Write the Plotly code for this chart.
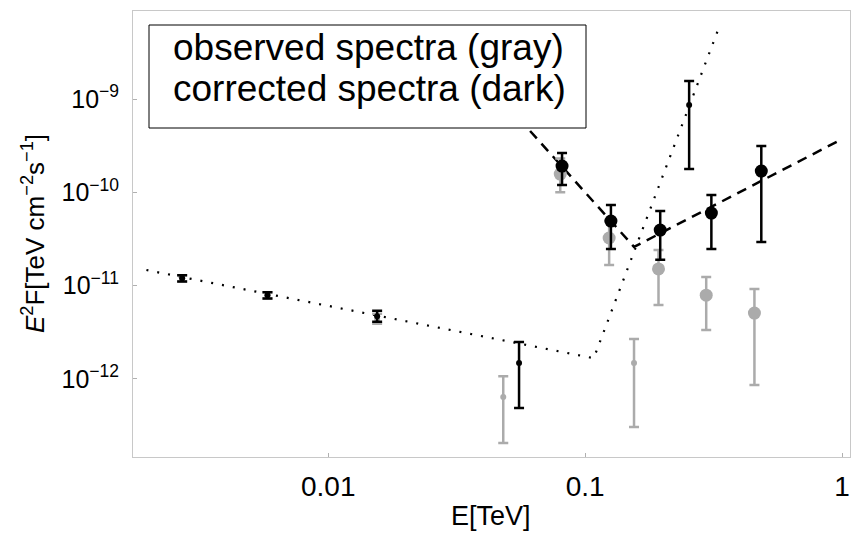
import plotly.graph_objects as go

# ---------------- data ----------------
# observed spectra (gray), small markers
obs_small_x = [0.0027, 0.0058, 0.0155, 0.048, 0.155]
obs_small_y = [1.2e-11, 7.9e-12, 4.4e-12, 6.4e-13, 1.48e-12]
obs_small_hi = [1.29e-11, 8.5e-12, 5.0e-12, 1.07e-12, 2.68e-12]
obs_small_lo = [1.11e-11, 7.3e-12, 3.9e-12, 2.06e-13, 3.05e-13]

# observed spectra (gray), large markers
obs_big_x = [0.080, 0.124, 0.193, 0.296, 0.456]
obs_big_y = [1.57e-10, 3.24e-11, 1.51e-11, 7.9e-12, 5.08e-12]
obs_big_hi = [2.3e-10, 4.9e-11, 2.41e-11, 1.24e-11, 9.2e-12]
obs_big_lo = [1.0e-10, 1.66e-11, 6.2e-12, 3.34e-12, 8.6e-13]

# corrected spectra (dark), small markers
corr_small_x = [0.0027, 0.0058, 0.0155, 0.0553, 0.254]
corr_small_y = [1.2e-11, 7.9e-12, 4.7e-12, 1.48e-12, 8.6e-10]
corr_small_hi = [1.29e-11, 8.5e-12, 5.4e-12, 2.49e-12, 1.56e-9]
corr_small_lo = [1.11e-11, 7.3e-12, 4.1e-12, 4.9e-13, 1.78e-10]

# corrected spectra (dark), large markers
corr_big_x = [0.0813, 0.126, 0.196, 0.31, 0.485]
corr_big_y = [1.91e-10, 4.92e-11, 3.94e-11, 6.0e-11, 1.69e-10]
corr_big_hi = [2.64e-10, 7.3e-11, 6.3e-11, 9.35e-11, 3.13e-10]
corr_big_lo = [1.20e-10, 2.47e-11, 1.9e-11, 2.47e-11, 2.93e-11]

# model curves
dashed_x = [0.045, 0.155, 1.0]
dashed_y = [1.16e-9, 2.6e-11, 3.72e-10]
dotted_x = [0.00196, 0.108, 0.33]
dotted_y = [1.47e-11, 1.67e-12, 5.6e-9]

y_tickvals = [1e-12, 1e-11, 1e-10, 1e-9]
y_ticktext = ["10<sup>\u221212</sup>", "10<sup>\u221211</sup>", "10<sup>\u221210</sup>", "10<sup>\u22129</sup>"]
x_tickvals = [0.01, 0.1, 1]
x_ticktext = ["0.01", "0.1", "1"]

legend_lines = ["observed spectra (gray)", "corrected spectra (dark)"]

# ---------------- figure ----------------
W, H = 852, 533
L, R, T, B = 133, 2, 11, 76
PW, PH = W - L - R, H - T - B


def px_x(p):
    return (p - L) / PW


def px_y(p):
    return (H - B - p) / PH


GRAY = "#ababab"
FONT = "Liberation Sans, Arial, sans-serif"


def err(hi, lo, y):
    return dict(
        type="data",
        symmetric=False,
        array=[h - v for h, v in zip(hi, y)],
        arrayminus=[v - l for v, l in zip(y, lo)],
    )


fig = go.Figure()

fig.add_trace(go.Scatter(x=dotted_x, y=dotted_y, mode="lines",
                         line=dict(color="black", width=2.2, dash="2px,9px"),
                         hoverinfo="skip"))
fig.add_trace(go.Scatter(x=dashed_x, y=dashed_y, mode="lines",
                         line=dict(color="black", width=2.5, dash="10px,7px"),
                         hoverinfo="skip"))

for xs, ys, hi, lo, size, color in [
    (obs_small_x, obs_small_y, obs_small_hi, obs_small_lo, 6, GRAY),
    (obs_big_x, obs_big_y, obs_big_hi, obs_big_lo, 13, GRAY),
    (corr_small_x, corr_small_y, corr_small_hi, corr_small_lo, 6, "black"),
    (corr_big_x, corr_big_y, corr_big_hi, corr_big_lo, 13, "black"),
]:
    e = err(hi, lo, ys)
    e.update(color=color, thickness=2.5, width=5)
    fig.add_trace(go.Scatter(x=xs, y=ys, mode="markers",
                             marker=dict(size=size, color=color),
                             error_y=e))

fig.update_xaxes(type="log", range=[-2.76, 0.031],
                 tickvals=x_tickvals, ticktext=x_ticktext,
                 showgrid=False, zeroline=False,
                 showline=True, mirror=True, linecolor="#c8c8c8", linewidth=1,
                 ticks="inside", ticklen=4, tickcolor="#b0b0b0",
                 tickfont=dict(family=FONT, size=28, color="black"),
                 ticklabelstandoff=4)
fig.update_yaxes(type="log", range=[-12.836, -8.057],
                 tickvals=y_tickvals, ticktext=y_ticktext,
                 showgrid=False, zeroline=False,
                 showline=True, mirror=True, linecolor="#c8c8c8", linewidth=1,
                 ticks="inside", ticklen=4, tickcolor="#b0b0b0",
                 tickfont=dict(family=FONT, size=25, color="black"),
                 ticklabelstandoff=8)

# legend box
fig.add_shape(type="rect", xref="paper", yref="paper",
              x0=px_x(149), x1=px_x(586), y0=px_y(128), y1=px_y(25),
              line=dict(color="black", width=1), fillcolor="white", layer="above")
for i, txt in enumerate(legend_lines):
    fig.add_annotation(x=px_x(171), y=px_y(47 + 42 * i), xref="paper", yref="paper",
                       text=txt, showarrow=False, xanchor="left", yanchor="middle",
                       font=dict(family=FONT, size=37, color="black"))

# axis titles
fig.add_annotation(x=px_x(491), y=px_y(516), xref="paper", yref="paper",
                   text="E[TeV]", showarrow=False, xanchor="center", yanchor="middle",
                   font=dict(family=FONT, size=27, color="black"))
fig.add_annotation(x=px_x(33), y=px_y(234), xref="paper", yref="paper",
                   text="<i>E</i><sup>2</sup>F[TeV cm<sup>\u22122</sup>s<sup>\u22121</sup>]",
                   textangle=-90, showarrow=False, xanchor="center", yanchor="middle",
                   font=dict(family=FONT, size=26, color="black"))

fig.update_layout(width=W, height=H, margin=dict(l=L, r=R, t=T, b=B),
                  paper_bgcolor="white", plot_bgcolor="white",
                  showlegend=False, font=dict(family=FONT))

fig.write_html("out.html")
